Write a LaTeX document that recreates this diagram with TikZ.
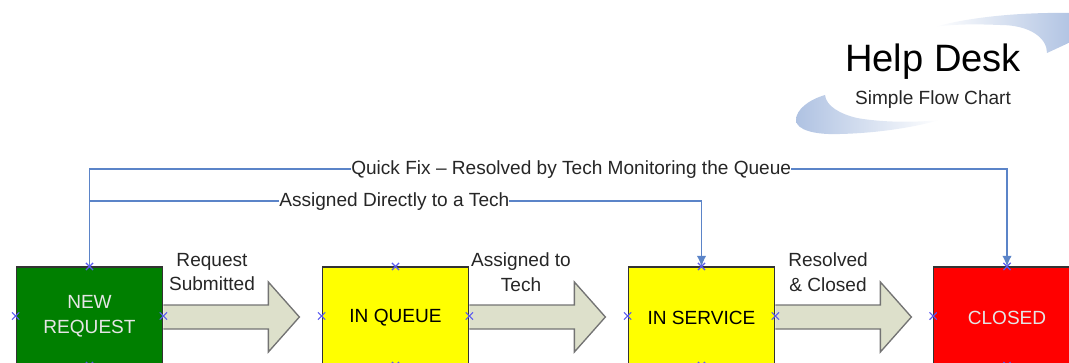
\documentclass[tikz,border=0pt]{standalone}
\usepackage{fontspec}
\setmainfont{Liberation Sans}
\usetikzlibrary{arrows.meta,shapes.misc}
\definecolor{linkblue}{HTML}{5B84C8}
\definecolor{sitblue}{HTML}{5A5AF0}
\definecolor{swoosh}{HTML}{AFC2E2}
\definecolor{pipe}{HTML}{DDE0CB}
\definecolor{newgreen}{HTML}{007F00}
\definecolor{waityellow}{HTML}{FFFF00}
\definecolor{closedred}{HTML}{FF0000}
\tikzset{
  statebox/.style={draw=black!80,line width=0.8pt,minimum width=110pt,minimum height=73.5pt,inner sep=0pt,align=center,font=\fontsize{14.3pt}{18.7pt}\selectfont,execute at begin node={\rule{0pt}{13pt}}},
  flowpipe/.style={draw=black!55,line width=1pt,fill=pipe,line join=miter},
  caption/.style={inner sep=0pt,align=center,text=black!85,font=\fontsize{14.3pt}{18.7pt}\selectfont},
  link/.style={draw=linkblue,line width=0.8pt},
  linktip/.style={-{Latex[length=8pt,width=7pt,fill=linkblue]}},
  site/.style={cross out,draw=sitblue,line width=0.9pt,minimum size=4.5pt,inner sep=0pt}
}
\begin{document}
\begin{tikzpicture}[x=0.75pt,y=-0.75pt]
\clip (0,0) rectangle (1069,363);

% swooshes behind the title
\shade[left color=white,right color=swoosh] (934,27) .. controls (970,17) and (1020,12) .. (1075,13) -- (1075,40) -- (1047,53) .. controls (1047,38) and (1030,25) .. (1000,25) .. controls (975,24) and (955,24) .. (934,27) -- cycle;
\shade[left color=swoosh,right color=white] (825,95) .. controls (808,100) and (796,110) .. (796,120) .. controls (796,130) and (815,135) .. (840,134) .. controls (880,133) and (915,127) .. (940,120) .. controls (910,123) and (880,122) .. (857,118) .. controls (840,114) and (826,106) .. (825,95) -- cycle;

\node[inner sep=0pt,text=black,font=\fontsize{28.6pt}{30pt}\selectfont] (title) at (933,62) {Help Desk};
\node[caption] (subtitle) at (933,100) {Simple Flow Chart};

% state boxes
\node[statebox,fill=newgreen,text=white!90!black] (new) at (89.5,316) {NEW\\REQUEST};
\node[statebox,fill=waityellow] (queue) at (395.5,316) {IN QUEUE};
\node[statebox,fill=waityellow] (service) at (701.5,316) {IN SERVICE};
\node[statebox,fill=closedred,text=white!90!black] (closed) at (1007,316) {CLOSED};

% arrows between the boxes
\foreach \b in {new,queue,service}
  \draw[flowpipe] (\b.east) ++(0,-11) -- ++(105,0) -- ++(0,-23) -- ++(31,35) -- ++(-31,35) -- ++(0,-23) -- ++(-105,0);
\node[caption] (reqlabel) at (212,272) {Request\\Submitted};
\node[caption] (techlabel) at (521,272) {Assigned to\\Tech};
\node[caption] (reslabel) at (828,272) {Resolved\\\& Closed};

% links across the top
\coordinate (fixcorner) at (89.5,169);
\coordinate (fixturn) at (1007,169);
\coordinate (dircorner) at (89.5,201);
\coordinate (dirturn) at (701.5,201);
\draw[link,linktip] (new.north) -- (fixcorner) -- node[pos=0.525,fill=white,inner sep=0.5pt,caption,yshift=-0.75pt] (fixlabel) {Quick Fix – Resolved by Tech Monitoring the Queue} (fixturn) -- (closed.north);
\draw[link,linktip] (dircorner) -- node[pos=0.498,fill=white,inner sep=0.5pt,caption,yshift=-0.75pt] (dirlabel) {Assigned Directly to a Tech} (dirturn) -- (service.north);

% connection sites
\foreach \b in {new,queue,service,closed}
  \foreach \a in {north,south,east,west}
    \node[site] (\b-\a) at (\b.\a) {};
\end{tikzpicture}
\end{document}
